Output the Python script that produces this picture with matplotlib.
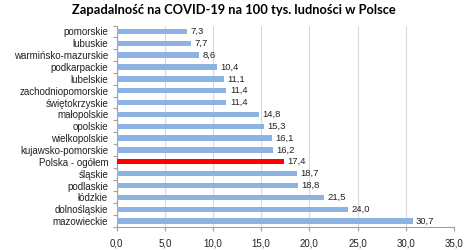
import matplotlib.pyplot as plt
import numpy as np

# Dane
regiony = ['pomorskie', 'lubuskie', 'warmińsko-mazurskie', 'podkarpackie', 'lubelskie',
           'zachodniopomorskie', 'świętokrzyskie', 'małopolskie', 'opolskie', 'wielkopolskie',
           'kujawsko-pomorskie', 'Polska - ogółem', 'śląskie', 'podlaskie', 'łódzkie',
           'dolnośląskie', 'mazowieckie']
wartosci = [7.3, 7.7, 8.6, 10.4, 11.1, 11.4, 11.4, 14.8, 15.3, 16.1, 16.2, 17.4,
            18.7, 18.8, 21.5, 24.0, 30.7]
xticks = [0, 5, 10, 15, 20, 25, 30, 35]

plt.rcParams['font.family'] = ['Liberation Sans', 'DejaVu Sans']

fig = plt.figure(figsize=(4.68, 2.5), dpi=100)
ax = fig.add_axes([0.249, 0.092, 0.721, 0.806])

kolory = ['#FF0000' if r == 'Polska - ogółem' else '#8DB3E2' for r in regiony]
y = np.arange(len(regiony))
ax.barh(y, wartosci, height=0.45, color=kolory, zorder=3)

for i, v in enumerate(wartosci):
    ax.text(v + 0.35, i, f'{v:.1f}'.replace('.', ','), va='center', ha='left',
            fontsize=6.8, color='#222222')

ax.set_yticks(y)
ax.set_yticklabels(regiony, fontsize=7)
ax.set_yticks(np.arange(len(regiony) + 1) - 0.5, minor=True)
ax.set_ylim(len(regiony) - 0.5, -0.5)
ax.set_xlim(0, 35)
ax.set_xticks(xticks)
ax.set_xticklabels([f'{t:.1f}'.replace('.', ',') for t in xticks], fontsize=7)

ax.grid(axis='x', color='#D9D9D9', linewidth=0.8, zorder=0)
for s in ['top', 'right']:
    ax.spines[s].set_visible(False)
for s in ['left', 'bottom']:
    ax.spines[s].set_color('#A0A0A0')
    ax.spines[s].set_linewidth(0.8)
ax.tick_params(axis='both', colors='#A0A0A0', labelcolor='#222222', width=0.8)
ax.tick_params(axis='x', length=3, pad=5)
ax.tick_params(axis='y', which='major', length=0, pad=6)
ax.tick_params(axis='y', which='minor', length=3, width=0.8, colors='#A0A0A0')

fig.suptitle('Zapadalność na COVID-19 na 100 tys. ludności w Polsce',
             fontsize=9.3, fontweight='bold', family=['Lato', 'DejaVu Sans'], y=0.985)

fig.savefig('out.png', dpi=100)
